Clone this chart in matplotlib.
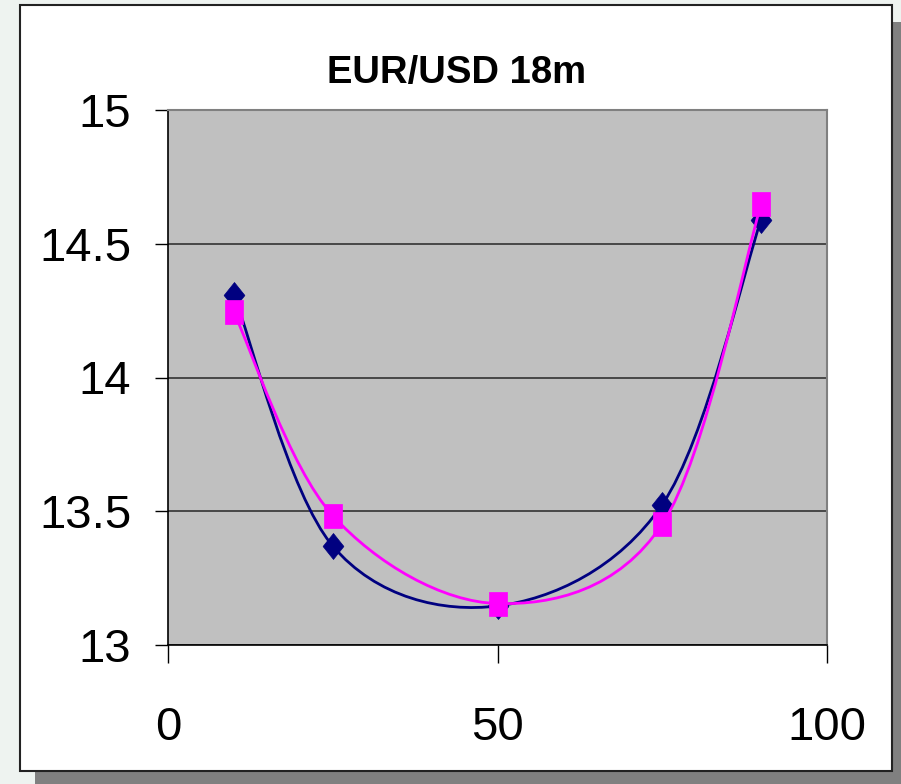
import numpy as np
import matplotlib
matplotlib.use("Agg")
import matplotlib.pyplot as plt
from matplotlib.path import Path
from matplotlib.patches import PathPatch, Rectangle

# smile points (delta, vol)
deltas = [10, 25, 50, 75, 90]
vols_navy = [14.31, 13.37, 13.146, 13.525, 14.59]
vols_pink = [14.243, 13.484, 13.155, 13.452, 14.647]

title = "EUR/USD 18m"
x_ticks = [0, 50, 100]
y_ticks = [13, 13.5, 14, 14.5, 15]
y_labels = ["13", "13.5", "14", "14.5", "15"]

W, H = 901, 784
fig = plt.figure(figsize=(W / 100, H / 100), dpi=100)
fig.patch.set_facecolor("#eef3f0")


def px_rect(x0, y0, x1, y1, **kw):
    # rectangle given in pixel coords measured from top-left
    return Rectangle((x0 / W, 1 - y1 / H), (x1 - x0) / W, (y1 - y0) / H,
                     transform=fig.transFigure, figure=fig, **kw)


fig.patches.append(px_rect(35, 22, 905, 790, facecolor="#808080", edgecolor="none", zorder=0))
fig.patches.append(px_rect(20, 5, 892, 771, facecolor="white", edgecolor="#222222",
                           linewidth=1.5, zorder=1))


def smooth_path(x, y):
    # Catmull-Rom style cubic Bezier through the points
    pts = np.column_stack([x, y]).astype(float)
    ext = np.vstack([pts[:1], pts, pts[-1:]])
    verts = [pts[0]]
    codes = [Path.MOVETO]
    for i in range(len(pts) - 1):
        p0, p1, p2, p3 = ext[i], ext[i + 1], ext[i + 2], ext[i + 3]
        verts += [p1 + (p2 - p0) / 6, p2 - (p3 - p1) / 6, p2]
        codes += [Path.CURVE4] * 3
    return Path(verts, codes)


diamond = Path([(0, 0.5), (0.4, 0), (0, -0.5), (-0.4, 0), (0, 0.5)],
               [Path.MOVETO, Path.LINETO, Path.LINETO, Path.LINETO, Path.CLOSEPOLY])
square = Path([(-0.39, -0.5), (0.39, -0.5), (0.39, 0.5), (-0.39, 0.5), (-0.39, -0.5)],
              [Path.MOVETO, Path.LINETO, Path.LINETO, Path.LINETO, Path.CLOSEPOLY])

ax = fig.add_axes([168 / W, 1 - 645 / H, 659 / W, 535 / H])
ax.set_zorder(2)
ax.set_facecolor("#c0c0c0")
ax.set_xlim(0, 100)
ax.set_ylim(13, 15)

ax.set_yticks(y_ticks)
ax.set_yticklabels(y_labels)
ax.set_xticks(x_ticks)
ax.grid(axis="y", color="#333333", linewidth=1.2)
ax.set_axisbelow(True)

for side in ["top", "right"]:
    ax.spines[side].set_color("#808080")
    ax.spines[side].set_linewidth(1.5)
for side in ["left", "bottom"]:
    ax.spines[side].set_color("black")
    ax.spines[side].set_linewidth(1.2)

for lab in ax.get_xticklabels() + ax.get_yticklabels():
    lab.set_fontfamily(["Liberation Sans", "DejaVu Sans"])
    lab.set_fontsize(34)
ax.tick_params(axis="y", direction="out", length=9.4, width=1, pad=17, color="black")
ax.tick_params(axis="x", direction="out", length=13, width=1, pad=31, color="black")

ax.add_patch(PathPatch(smooth_path(deltas, vols_navy), fill=False, edgecolor="#000080",
                       linewidth=2.0, zorder=3, clip_on=False))
ax.plot(deltas, vols_navy, linestyle="none", marker=diamond, markersize=18.7,
        color="#000080", markeredgewidth=0.5, zorder=3, clip_on=False)
ax.add_patch(PathPatch(smooth_path(deltas, vols_pink), fill=False, edgecolor="#ff00ff",
                       linewidth=2.0, zorder=4, clip_on=False))
ax.plot(deltas, vols_pink, linestyle="none", marker=square, markersize=16.6,
        color="#ff00ff", markeredgewidth=0.5, zorder=4, clip_on=False)

fig.text(457 / W, 1 - 83.3 / H, title, ha="center", va="baseline",
         fontsize=27.5, fontweight="bold", family=["Liberation Sans", "DejaVu Sans"], zorder=3)

fig.savefig("out.png", dpi=100, facecolor=fig.get_facecolor())
